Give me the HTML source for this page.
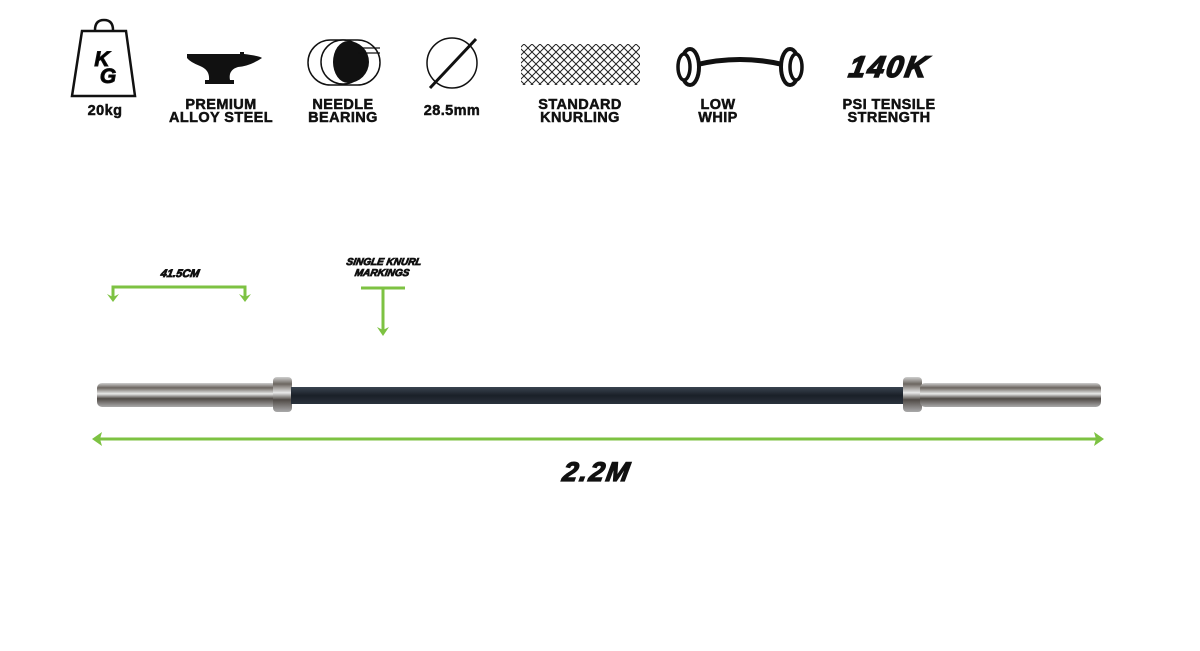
<!DOCTYPE html>
<html><head><style>
body{margin:0;width:1200px;height:651px;background:#fff;overflow:hidden;position:relative;font-family:"Liberation Sans",sans-serif}
.l{position:absolute;font-weight:bold;font-size:14.5px;line-height:13px;text-align:center;color:#111;transform:translateX(-50%);white-space:nowrap;letter-spacing:0.4px;-webkit-text-stroke:0.5px #111}
.it{position:absolute;font-weight:900;font-style:italic;color:#111;transform:translateX(-50%) skewX(-10deg);white-space:nowrap;text-align:center;-webkit-text-stroke:0.8px #111}
</style></head><body>
<svg width="1200" height="651" style="position:absolute;left:0;top:0">
<defs>
<pattern id="kn" width="8" height="8" patternUnits="userSpaceOnUse"><path d="M0 0L8 8M8 0L0 8" stroke="#222" stroke-width="1"/></pattern>
<linearGradient id="sl" x1="0" y1="0" x2="0" y2="1">
<stop offset="0" stop-color="#cfcfcf"/><stop offset=".2" stop-color="#6c6660"/><stop offset=".45" stop-color="#e8e8e8"/><stop offset=".65" stop-color="#504a46"/><stop offset="1" stop-color="#aaa"/></linearGradient>
<linearGradient id="sh" x1="0" y1="0" x2="0" y2="1"><stop offset="0" stop-color="#3a4450"/><stop offset=".5" stop-color="#1a2028"/><stop offset="1" stop-color="#2a323c"/></linearGradient>
</defs>
<path d="M95 30 Q95 20 104 20 Q113 20 113 30" fill="none" stroke="#111" stroke-width="2.5"/>
<path d="M82 31 H126 L135 96 H72 Z" fill="#fff" stroke="#111" stroke-width="2.5"/>
<text x="102" y="66" font-size="21" font-weight="900" font-style="italic" text-anchor="middle" font-family="Liberation Sans" stroke="#111" stroke-width="1">K</text>
<text x="108" y="83" font-size="21" font-weight="900" font-style="italic" text-anchor="middle" font-family="Liberation Sans" stroke="#111" stroke-width="1">G</text>
<path d="M187 54 H240 V52 H244 V54 Q260 56 262 58 Q250 66 238 67 Q228 70 230 80 H234 V84 H205 V80 H209 Q210 70 200 66 Q190 62 187 58 Z" fill="#111"/>
<rect x="308" y="40" width="72" height="45" rx="22.5" fill="none" stroke="#111" stroke-width="1.5"/>
<circle cx="343" cy="62" r="22" fill="#fff" stroke="#111" stroke-width="1.5"/>
<path d="M348 41 A15 21 0 0 0 348 83 A21 21 0 0 0 348 41Z" fill="#111"/>
<path d="M358 48 H380 M358 53 H380" stroke="#111" stroke-width="1.2"/>
<circle cx="452" cy="63" r="25" fill="none" stroke="#111" stroke-width="1.5"/>
<line x1="476" y1="39" x2="430" y2="88" stroke="#111" stroke-width="3"/>
<rect x="521" y="44" width="119" height="41" fill="url(#kn)"/>
<path d="M695 65 Q740 54 785 65" fill="none" stroke="#111" stroke-width="5"/>
<ellipse cx="690" cy="67" rx="9" ry="18" fill="#fff" stroke="#111" stroke-width="4"/>
<ellipse cx="684" cy="67" rx="6" ry="13" fill="#fff" stroke="#111" stroke-width="3.5"/>
<ellipse cx="790" cy="67" rx="9" ry="18" fill="#fff" stroke="#111" stroke-width="4"/>
<ellipse cx="796" cy="67" rx="6" ry="13" fill="#fff" stroke="#111" stroke-width="3.5"/>
<rect x="97" y="383" width="180" height="24" rx="5" fill="url(#sl)"/>
<rect x="273" y="377" width="19" height="35" rx="4" fill="url(#sl)"/>
<rect x="291" y="387" width="614" height="17" fill="url(#sh)"/>
<rect x="903" y="377" width="19" height="35" rx="4" fill="url(#sl)"/>
<rect x="920" y="383" width="181" height="24" rx="5" fill="url(#sl)"/>
<g stroke="#7dc242" stroke-width="3" fill="none">
<line x1="97" y1="439" x2="1098" y2="439"/>
<path d="M113 299 V287 H245 V299"/>
<path d="M361 288 H405 M383 288 V330"/>
</g>
<g fill="#7dc242">
<path d="M92 439 L102 432 L100 439 L102 446Z"/>
<path d="M1104 439 L1094 432 L1096 439 L1094 446Z"/>
<path d="M107 294 L113 302 L119 294 L113 297Z"/>
<path d="M239 294 L245 302 L251 294 L245 297Z"/>
<path d="M377 327 L383 336 L389 327 L383 330Z"/>
</g>
</svg>
<div class="l" style="left:105px;top:105px">20kg</div>
<div class="l" style="left:221px;top:99px">PREMIUM<br>ALLOY STEEL</div>
<div class="l" style="left:343px;top:99px">NEEDLE<br>BEARING</div>
<div class="l" style="left:452px;top:105px">28.5mm</div>
<div class="l" style="left:580px;top:99px">STANDARD<br>KNURLING</div>
<div class="l" style="left:718px;top:99px">LOW<br>WHIP</div>
<div class="l" style="left:889px;top:99px">PSI TENSILE<br>STRENGTH</div>
<div class="it" style="left:889px;top:53px;font-size:30px;line-height:30px;letter-spacing:2px;-webkit-text-stroke:1.5px #111">140K</div>
<div class="it" style="left:180px;top:269px;font-size:11px;line-height:11px">41.5CM</div>
<div class="it" style="left:383px;top:257px;font-size:10px;line-height:11px">SINGLE KNURL<br>MARKINGS</div>
<div class="it" style="left:597px;top:459px;font-size:27px;line-height:27px;letter-spacing:2px;-webkit-text-stroke:1.3px #111">2.2M</div>
</body></html>
